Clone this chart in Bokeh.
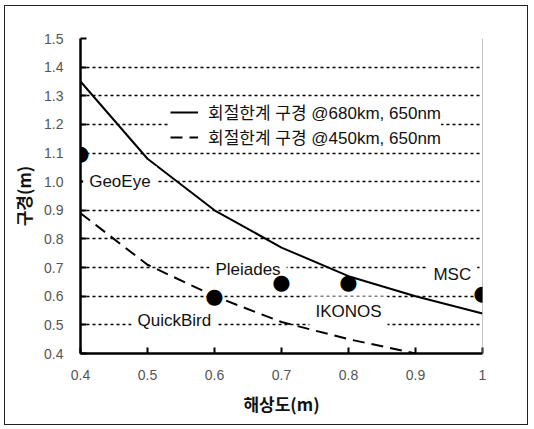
from bokeh.plotting import figure
from bokeh.models import Range1d, FixedTicker, Label, Span, Legend, LegendItem
from bokeh.embed import file_html
from bokeh.resources import INLINE

# ---- data ----
res_x = [0.4, 0.5, 0.6, 0.7, 0.8, 0.9, 1.0]
aperture_680 = [1.35, 1.08, 0.90, 0.77, 0.67, 0.60, 0.54]
res_x_450 = [0.4, 0.5, 0.6, 0.7, 0.8, 0.9]
aperture_450 = [0.89, 0.71, 0.60, 0.51, 0.45, 0.40]

sat_names = ["GeoEye", "QuickBird", "Pleiades", "IKONOS", "MSC"]
sat_res = [0.4, 0.6, 0.7, 0.8, 1.0]
sat_aperture = [1.10, 0.60, 0.65, 0.65, 0.61]
label_x = [0.404, 0.54, 0.65, 0.80, 0.955]
label_y = [1.00, 0.515, 0.695, 0.545, 0.675]
label_align = ["left", "center", "center", "center", "center"]

x_ticks = [0.4, 0.5, 0.6, 0.7, 0.8, 0.9, 1.0]
x_tick_labels = ["0.4", "0.5", "0.6", "0.7", "0.8", "0.9", "1"]
y_ticks = [0.4, 0.5, 0.6, 0.7, 0.8, 0.9, 1.0, 1.1, 1.2, 1.3, 1.4, 1.5]
y_tick_labels = ["0.4", "0.5", "0.6", "0.7", "0.8", "0.9", "1.0", "1.1", "1.2", "1.3", "1.4", "1.5"]

legend_labels = ["회절한계 구경 @680km, 650nm", "회절한계 구경 @450km, 650nm"]
x_title = "해상도(m)"
y_title = "구경(m)"

LAT = "Liberation Sans, Noto Sans CJK KR"
KOR = "Noto Sans CJK KR"

p = figure(width=524, height=420, output_backend="svg", toolbar_location=None,
           x_range=Range1d(0.4, 1.0), y_range=Range1d(0.4, 1.5),
           min_border_left=75, min_border_right=47, min_border_top=32, min_border_bottom=73)
p.styles = {"border": "1.5px solid #222", "margin-left": "4px", "margin-top": "5px"}
p.outline_line_color = None
p.background_fill_color = "white"
p.border_fill_color = "white"

# axes
p.xaxis.ticker = FixedTicker(ticks=x_ticks)
p.xaxis.major_label_overrides = {t: s for t, s in zip(x_ticks, x_tick_labels)}
p.yaxis.ticker = FixedTicker(ticks=y_ticks)
p.yaxis.major_label_overrides = {t: s for t, s in zip(y_ticks, y_tick_labels)}
for ax in (p.xaxis[0], p.yaxis[0]):
    ax.axis_line_width = 2.5
    ax.axis_line_color = "black"
    ax.major_tick_in = 6
    ax.major_tick_out = 0
    ax.major_tick_line_width = 2
    ax.major_tick_line_color = "black"
    ax.minor_tick_line_color = None
    ax.major_label_text_font = LAT
    ax.major_label_text_font_size = "14px"
    ax.major_label_text_color = "#555555"
    ax.axis_label_text_font = KOR
    ax.axis_label_text_font_size = "17px"
    ax.axis_label_text_font_style = "bold"
    ax.axis_label_text_color = "#111111"
p.xaxis.axis_label = x_title
p.yaxis.axis_label = y_title
p.xaxis.major_label_standoff = 16
p.xaxis.axis_label_standoff = 8
p.yaxis.major_label_standoff = 17
p.yaxis.axis_label_standoff = 5

p.xgrid.grid_line_color = None
p.ygrid.ticker = FixedTicker(ticks=y_ticks)
p.ygrid.grid_line_color = "black"
p.ygrid.grid_line_dash = "3 3"
p.ygrid.grid_line_width = 1.5

# right edge of frame
p.add_layout(Span(location=1.0, dimension="height", line_color="#888888", line_width=1))

r1 = p.line(res_x, aperture_680, line_color="black", line_width=2)
r2 = p.line(res_x_450, aperture_450, line_color="black", line_width=2, line_dash="12 7")

legend = Legend(items=[LegendItem(label=legend_labels[0], renderers=[r1]),
                       LegendItem(label=legend_labels[1], renderers=[r2])],
                location=(90, 204), background_fill_color="white", background_fill_alpha=1,
                border_line_color=None, padding=5, margin=0, spacing=0,
                label_height=20, glyph_height=20, glyph_width=28, label_standoff=10,
                label_text_font=LAT, label_text_font_size="17px",
                label_text_color="#111111")
p.add_layout(legend)

# satellite labels (white background)
for name, lx, ly, al in zip(sat_names, label_x, label_y, label_align):
    p.add_layout(Label(x=lx, y=ly, text=name, text_align=al, text_baseline="middle",
                       text_font=LAT, text_font_size="17px", text_color="#111111",
                       background_fill_color="white", background_fill_alpha=1,
                       padding=6))

# satellite points (drawn unclipped)
for sx, sy in zip(sat_res, sat_aperture):
    p.add_layout(Label(x=sx, y=sy, text="●", text_align="center", text_baseline="middle",
                       text_font="DejaVu Sans", text_font_size="21px",
                       text_color="black"))

open("out.html", "w").write(file_html(p, INLINE))
